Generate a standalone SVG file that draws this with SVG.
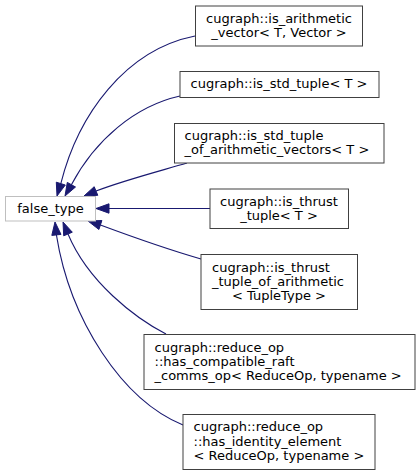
<svg xmlns="http://www.w3.org/2000/svg" width="420" height="475" viewBox="0 0 420 475">
<style>
.n rect{fill:#fff;stroke:#404040;stroke-width:1}
#false_type rect{stroke:#bfbfbf}
text{font-family:"DejaVu Sans",sans-serif;font-size:13px;fill:#000}
.m{text-anchor:middle}
.e path{fill:none;stroke:#191970;stroke-width:1.1}
.e polygon{fill:#191970;stroke:#191970;stroke-width:1}
</style>
<rect width="420" height="475" fill="#fff"/>
<g id="connectors" class="e">
<path d="M195,36 C125,50 78,115 60.8,183.6"/>
<polygon points="65.3,185 56.3,182.2 57,196"/>
<path d="M180,96 C135,106 95,140 71.4,184.7"/>
<polygon points="75.5,187 67.3,182.4 65,196"/>
<path d="M187,163 C160,171 125,180 96,191"/>
<polygon points="97.8,195.3 94.2,186.7 84,196"/>
<path d="M210,208.5 L109,208.5"/>
<polygon points="109,203.8 109,213.2 96,208.5"/>
<path d="M201,259 C170,250 130,236 100.4,225"/>
<polygon points="101.9,220.5 98.9,229.5 88,221"/>
<path d="M166,334 C135,318 88,282 68,234"/>
<polygon points="72.3,232.2 63.7,235.8 63,222"/>
<path d="M183,425 C122,400 70,320 56.4,234.9"/>
<polygon points="61,234.4 51.8,235.4 55,222"/>
</g>
<g id="false_type" class="n">
<rect x="5.5" y="196.5" width="90" height="24.5"/>
<text class="m" x="50.5" y="212.5">false_type</text>
</g>
<g id="is_arithmetic_vector" class="n">
<rect x="195.5" y="6" width="167" height="40"/>
<text class="m" x="279" y="22.5">cugraph::is_arithmetic</text>
<text class="m" x="279" y="36.8">_vector&lt; T, Vector &gt;</text>
</g>
<g id="is_std_tuple" class="n">
<rect x="180" y="71.5" width="199" height="26"/>
<text class="m" x="279" y="88.3">cugraph::is_std_tuple&lt; T &gt;</text>
</g>
<g id="is_std_tuple_of_arithmetic_vectors" class="n">
<rect x="174.5" y="123.5" width="209.5" height="39.5"/>
<text x="184.5" y="139.9">cugraph::is_std_tuple</text>
<text x="184.5" y="154.2">_of_arithmetic_vectors&lt; T &gt;</text>
</g>
<g id="is_thrust_tuple" class="n">
<rect x="210" y="189" width="138.5" height="39.5"/>
<text class="m" x="279" y="205.5">cugraph::is_thrust</text>
<text class="m" x="279" y="219.8">_tuple&lt; T &gt;</text>
</g>
<g id="is_thrust_tuple_of_arithmetic" class="n">
<rect x="201" y="254.5" width="156.5" height="55"/>
<text x="212" y="271.5">cugraph::is_thrust</text>
<text x="212" y="285.8">_tuple_of_arithmetic</text>
<text class="m" x="279" y="300.1">&lt; TupleType &gt;</text>
</g>
<g id="has_compatible_raft_comms_op" class="n">
<rect x="144" y="334.5" width="271" height="55"/>
<text x="154.5" y="351.5">cugraph::reduce_op</text>
<text x="154.5" y="365.8">::has_compatible_raft</text>
<text x="154.5" y="380.1">_comms_op&lt; ReduceOp, typename &gt;</text>
</g>
<g id="has_identity_element" class="n">
<rect x="183" y="414.5" width="192" height="55"/>
<text x="193.5" y="431.4">cugraph::reduce_op</text>
<text x="193.5" y="445.7">::has_identity_element</text>
<text x="193.5" y="460">&lt; ReduceOp, typename &gt;</text>
</g>
</svg>
